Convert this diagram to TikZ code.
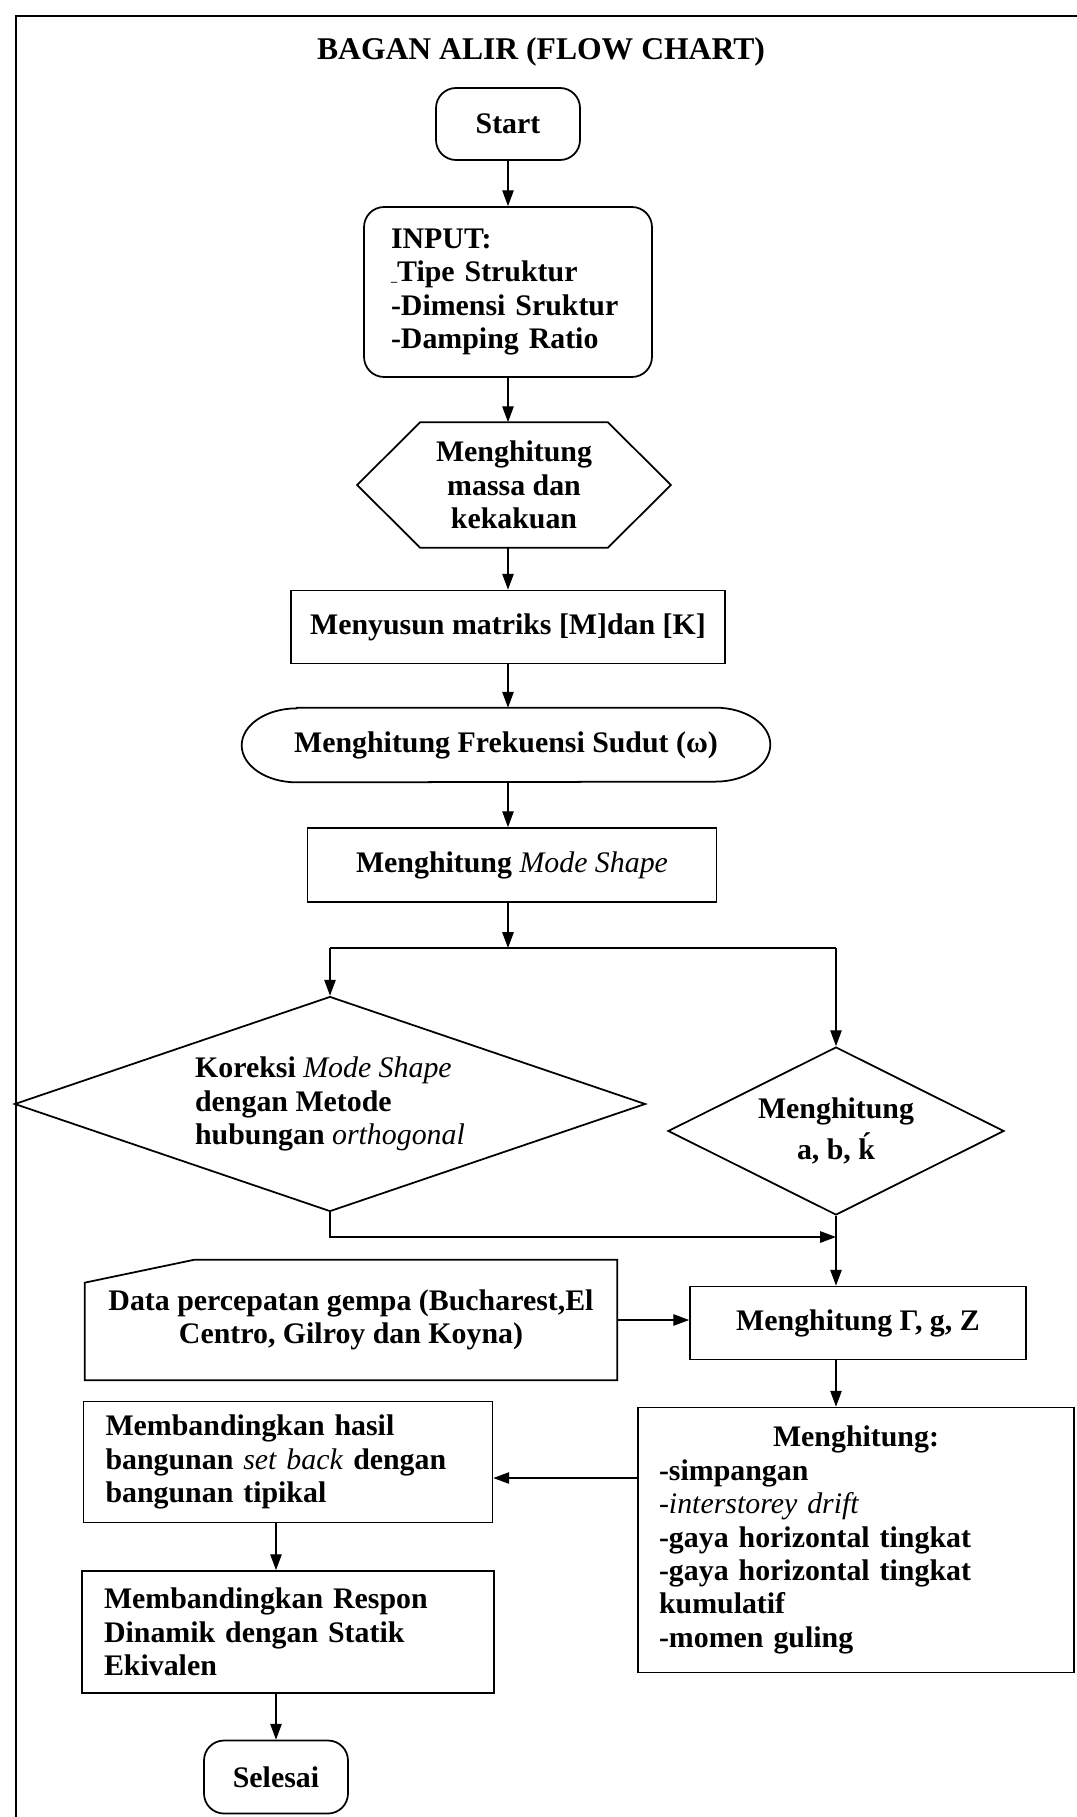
\documentclass[tikz,border=0pt]{standalone}
\usepackage{fontspec}
\setmainfont{Liberation Serif}
\usetikzlibrary{arrows.meta,shapes.geometric}
\newcommand{\flowfont}{\fontsize{17pt}{19pt}\selectfont\bfseries}
\newcommand{\ital}[1]{\textmd{\textit{#1}}}
\tikzset{
  box/.style={draw, line width=1pt, font=\flowfont, align=center, inner sep=0pt},
  term/.style={box, rounded corners=0.4cm},
  plain/.style={font=\flowfont, align=center, inner sep=0pt},
  dia/.style={box, diamond},
  arr/.style={-{Triangle[length=9pt,width=6.5pt]}, line width=0.7pt},
  ln/.style={line width=0.7pt}
}
\begin{document}
\begin{tikzpicture}[x=0.02cm, y=-0.02cm]
\useasboundingbox (0,0) rectangle (1076,1817);
% frame of the page
\draw[line width=1pt] (16,16) rectangle (1100,1840);
\node[font=\fontsize{18pt}{20pt}\selectfont\bfseries] (title) at (541,52) {BAGAN ALIR (FLOW CHART)};
% main column
\node[term, minimum width=2.88cm, minimum height=1.44cm] (start) at (508,124) {Start};
\node[term, align=left, text width=4.68cm, inner xsep=0.54cm, minimum height=3.4cm] (input) at (508,292)
  {INPUT:\\{\scriptsize\_}Tipe Struktur\\-Dimensi Sruktur\\-Damping Ratio};
\node[plain, minimum width=6.26cm, minimum height=2.5cm] (hex) at (514,485) {Menghitung\\massa dan\\kekakuan};
\draw[line width=1pt] (hex.west) -- ([xshift=1.26cm]hex.north west) -- ([xshift=-1.26cm]hex.north east)
  -- (hex.east) -- ([xshift=-1.26cm]hex.south east) -- ([xshift=1.26cm]hex.south west) -- cycle;
\node[box, minimum width=8.68cm, minimum height=1.46cm] (susun) at (508,627) {Menyusun matriks [M]dan [K]};
\node[plain, minimum width=10.56cm, minimum height=1.48cm] (frek) at (506,745) {Menghitung Frekuensi Sudut (ω)};
\draw[line width=1pt] ([xshift=1.1cm]frek.north west) -- ([xshift=-1.1cm]frek.north east)
  arc[start angle=90, end angle=-90, x radius=1.1cm, y radius=0.74cm]
  -- ([xshift=1.1cm]frek.south west)
  arc[start angle=270, end angle=90, x radius=1.1cm, y radius=0.74cm] -- cycle;
\node[box, minimum width=8.18cm, minimum height=1.48cm] (mode) at (512,865) {Menghitung \ital{Mode Shape}};
\coordinate (split) at (508,948);
% two diamonds
\node[dia, aspect=2.93, align=left, minimum width=12.62cm, minimum height=4.3cm] (koreksi) at (330,1104)
  {Koreksi \ital{Mode Shape}\\dengan Metode\\hubungan \ital{orthogonal}};
\node[dia, aspect=2, minimum width=6.72cm, minimum height=3.36cm] (abk) at (836,1131)
  {Menghitung\\[4pt]a, b, {\accent"B4 k}};
\coordinate (join) at (836,1237);
% data and results
\node[plain, minimum width=10.64cm, minimum height=2.4cm] (data) at (351,1320)
  {Data percepatan gempa (Bucharest,El\\Centro, Gilroy dan Koyna)};
\draw[line width=1pt] (data.south west) -- ([yshift=-0.46cm]data.north west) -- ([xshift=2.2cm]data.north west)
  -- (data.north east) -- (data.south east) -- cycle;
\node[box, minimum width=6.72cm, minimum height=1.46cm] (gam) at (858,1323) {Menghitung Γ, g, Z};
\node[box, align=left, text width=7.88cm, inner xsep=0.42cm, minimum height=5.3cm] (hit) at (856,1540)
  {\makebox[\linewidth]{Menghitung:}\\-simpangan\\\ital{-interstorey drift}\\-gaya horizontal tingkat\\-gaya horizontal tingkat\\kumulatif\\-momen guling};
\coordinate (mid) at (560,1478);
\node[box, align=left, text width=7.3cm, inner xsep=0.44cm, minimum height=2.42cm] (hasil) at (288,1462)
  {Membandingkan hasil\\bangunan \ital{set back} dengan\\bangunan tipikal};
\node[box, align=left, text width=7.36cm, inner xsep=0.44cm, minimum height=2.44cm] (respon) at (288,1632)
  {Membandingkan Respon\\Dinamik dengan Statik\\Ekivalen};
\node[term, minimum width=2.88cm, minimum height=1.46cm] (sel) at (276,1777) {Selesai};
% connectors
\draw[arr] (start) -- (input);
\draw[arr] (input) -- (input |- hex.north);
\draw[arr] (input |- hex.south) -- (input |- susun.north);
\draw[arr] (susun) -- (susun |- frek.north);
\draw[arr] (susun |- frek.south) -- (susun |- mode.north);
\draw[arr] (susun |- mode.south) -- (split);
\draw[ln] (split -| koreksi) -- (split -| abk);
\draw[arr] (split -| koreksi) -- (koreksi);
\draw[arr] (split -| abk) -- (abk);
\draw[arr] (koreksi) |- (join);
\draw[arr] (abk) -- (abk |- gam.north);
\draw[arr] (data) -- (data -| gam.west);
\draw[arr] (gam.south -| abk) -- (abk |- hit.north);
\draw[arr] (hit.west |- mid) -- (hasil.east |- mid);
\draw[arr] (hasil.south -| sel) -- (respon.north -| sel);
\draw[arr] (respon.south -| sel) -- (sel);
\end{tikzpicture}
\end{document}
